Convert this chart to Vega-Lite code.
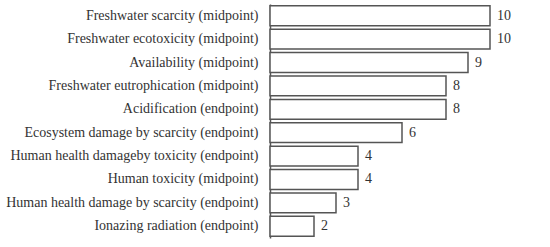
{
  "$schema": "https://vega.github.io/schema/vega-lite/v6.json",
  "width": 220,
  "height": 234,
  "autosize": {"type": "none"},
  "padding": {"left": 270, "top": 4, "right": 60, "bottom": 9},
  "background": "white",
  "config": {"view": {"stroke": null}},
  "data": {"values": [
    {"category": "Freshwater scarcity (midpoint)", "value": 10},
    {"category": "Freshwater ecotoxicity (midpoint)", "value": 10},
    {"category": "Availability (midpoint)", "value": 9},
    {"category": "Freshwater eutrophication (midpoint)", "value": 8},
    {"category": "Acidification (endpoint)", "value": 8},
    {"category": "Ecosystem damage by scarcity (endpoint)", "value": 6},
    {"category": "Human health damageby toxicity (endpoint)", "value": 4},
    {"category": "Human toxicity (midpoint)", "value": 4},
    {"category": "Human health damage by scarcity (endpoint)", "value": 3},
    {"category": "Ionazing radiation (endpoint)", "value": 2}
  ]},
  "encoding": {
    "y": {"field": "category", "type": "nominal", "sort": null,
      "scale": {"paddingInner": 0.15, "paddingOuter": 0.08},
      "axis": {"title": null, "ticks": false, "domainColor": "#555", "domainWidth": 1.5,
        "labelFont": "Liberation Serif", "labelFontSize": 14, "labelColor": "#333",
        "labelPadding": 12, "labelLimit": 300}},
    "x": {"field": "value", "type": "quantitative", "scale": {"domain": [0, 10]}, "axis": null}
  },
  "layer": [
    {"mark": {"type": "bar", "fill": "white", "stroke": "#555", "strokeWidth": 1.5}},
    {"mark": {"type": "text", "align": "left", "dx": 7, "font": "Liberation Serif", "fontSize": 14, "color": "#333"},
     "encoding": {"text": {"field": "value"}}}
  ]
}
